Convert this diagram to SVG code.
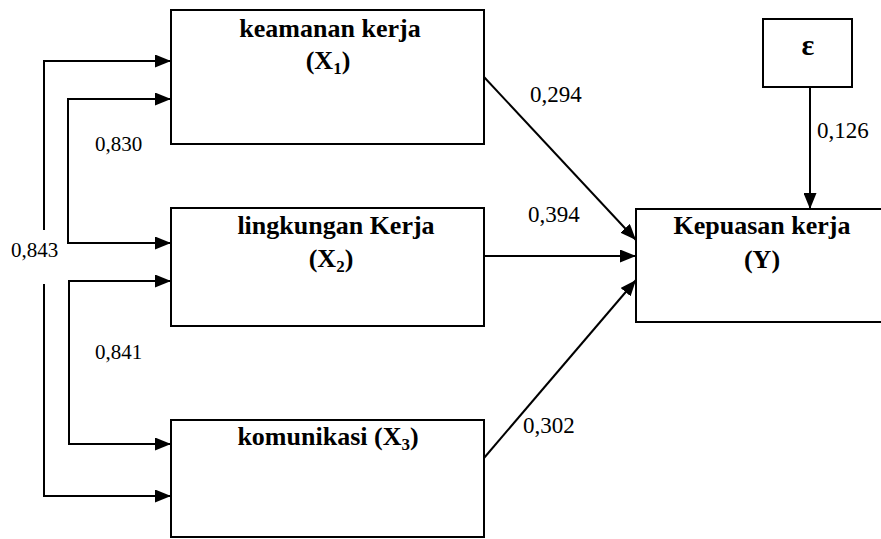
<svg xmlns="http://www.w3.org/2000/svg" width="881" height="539" viewBox="0 0 881 539">
<style>
.box{fill:#fff;stroke:#000;stroke-width:2}
.t{font-family:'Liberation Serif','DejaVu Serif',serif;font-weight:bold;font-size:26px;fill:#000;text-anchor:middle}
.sub{font-size:17px}
.lbl{font-family:'Liberation Serif','DejaVu Serif',serif;font-size:23px;fill:#000}
.lbls{font-size:21px}
.c{fill:none;stroke:#000;stroke-width:2}
</style>
<defs>
<marker id="ah" markerUnits="userSpaceOnUse" markerWidth="16" markerHeight="13" refX="16" refY="6.5" orient="auto-start-reverse">
<path d="M0,0 L16,6.5 L0,13 z" fill="#000"/>
</marker>
</defs>
<rect width="881" height="539" fill="#fff"/>
<g id="connectors">
<polyline class="c" points="44,230 44,61 171,61" marker-end="url(#ah)"/>
<polyline class="c" points="44,284 44,496 171,496" marker-end="url(#ah)"/>
<polyline class="c" points="171,99 68,99 68,243 171,243" marker-start="url(#ah)" marker-end="url(#ah)"/>
<polyline class="c" points="171,281 69,281 69,444 171,444" marker-start="url(#ah)" marker-end="url(#ah)"/>
<line class="c" x1="484" y1="77" x2="636" y2="240" marker-end="url(#ah)"/>
<line class="c" x1="484" y1="256" x2="636" y2="256" marker-end="url(#ah)"/>
<line class="c" x1="484" y1="458" x2="636" y2="280" marker-end="url(#ah)"/>
<line class="c" x1="810" y1="87" x2="810" y2="209" marker-end="url(#ah)"/>
<text class="lbl lbls" x="95" y="151">0,830</text>
<text class="lbl lbls" x="11" y="257">0,843</text>
<text class="lbl lbls" x="95" y="359">0,841</text>
<text class="lbl" x="530" y="102">0,294</text>
<text class="lbl" x="528" y="222">0,394</text>
<text class="lbl" x="523" y="433">0,302</text>
<text class="lbl" x="817" y="138">0,126</text>
</g>
<g id="x1">
<rect class="box" x="171" y="10" width="313" height="134"/>
<text class="t" x="330" y="37">keamanan kerja</text>
<text class="t" x="328" y="69">(X<tspan class="sub" dy="5">1</tspan><tspan dy="-5">)</tspan></text>
</g>
<g id="x2">
<rect class="box" x="171" y="208" width="313" height="118"/>
<text class="t" x="336" y="234">lingkungan Kerja</text>
<text class="t" x="331" y="267">(X<tspan class="sub" dy="5">2</tspan><tspan dy="-5">)</tspan></text>
</g>
<g id="x3">
<rect class="box" x="171" y="420" width="313" height="117"/>
<text class="t" x="328" y="445">komunikasi (X<tspan class="sub" dy="5">3</tspan><tspan dy="-5">)</tspan></text>
</g>
<g id="y">
<rect class="box" x="636" y="209" width="260" height="113"/>
<text class="t" x="762" y="234">Kepuasan kerja</text>
<text class="t" x="762" y="268">(Y)</text>
</g>
<g id="eps">
<rect class="box" x="763" y="19" width="89" height="68"/>
<text class="t" x="808" y="55" style="font-size:30px">ε</text>
</g>
</svg>
